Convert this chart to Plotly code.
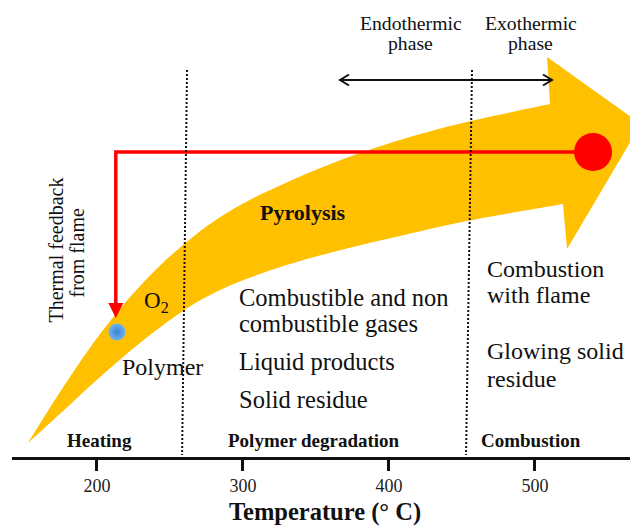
import plotly.graph_objects as go

# ---------------- data (temperature in °C on x, diagram height on y, 0 = top) -------------
TICK_VALUES = [200, 300, 400, 500]
X_RANGE = [141.8, 570.6]
Y_RANGE = [457, 8]
X_TITLE = "Temperature (° C)"

# big yellow arrow outline
ARROW_UPPER_T = [152.8, 174.7, 202.1, 229.5, 258.9, 291.1, 332.2, 382.2, 441.8, 510.3]
ARROW_UPPER_Y = [443, 392, 334, 286, 245, 211, 181, 152, 126, 104]
ARROW_HEAD_T = [508.3, 572.6, 522.0, 519.2]
ARROW_HEAD_Y = [57, 124, 249, 204]
ARROW_LOWER_T = [519.2, 453.5, 407.6, 375.4, 339.1, 311.7, 284.3, 258.9, 229.5, 202.1, 176.8, 152.8]
ARROW_LOWER_Y = [204, 221, 236, 247, 261, 274, 290, 311, 343, 377, 411, 443]

# phase boundaries (dotted lines): top / bottom temperature
BOUNDARY_TOP_T = [261.7, 456.9]
BOUNDARY_BOTTOM_T = [258.3, 452.8]
BOUNDARY_Y = [70, 455]

# thermal feedback path (flame -> polymer)
FEEDBACK_T = [539.8, 212.9, 212.9]
FEEDBACK_Y = [152, 152, 306]
FEEDBACK_TIP_Y = 318
FLAME_T = [539.8]
FLAME_Y = [152]
POLYMER_T = [213.7]
POLYMER_Y = [332]

# endothermic / exothermic double arrow
PHASE_ARROW_T = [366.5, 511.7]
PHASE_ARROW_Y = 80

PHASE_LABELS = ["Heating", "Polymer degradation", "Combustion"]

FONT = "Liberation Serif"
INK = "#111111"

# the page body adds an 8 px offset; the figure is sized so it ends at the window edge
PAGE_OFFSET = 8
FIG_W, FIG_H = 638 - PAGE_OFFSET, 526 - PAGE_OFFSET
AXIS_PX = 457
PLOT_H = AXIS_PX - PAGE_OFFSET
PX_PER_DEG = 1.46


def px2t(px):
    return 133.6 + px / PX_PER_DEG


def dx(px):
    return px / PX_PER_DEG


def smooth(xs, ys):
    pts = list(zip(xs, ys))
    n = len(pts)
    segs = []
    for i in range(n - 1):
        p0 = pts[i - 1] if i > 0 else pts[i]
        p1, p2 = pts[i], pts[i + 1]
        p3 = pts[i + 2] if i + 2 < n else p2
        c1 = (p1[0] + (p2[0] - p0[0]) / 6, p1[1] + (p2[1] - p0[1]) / 6)
        c2 = (p2[0] - (p3[0] - p1[0]) / 6, p2[1] - (p3[1] - p1[1]) / 6)
        segs.append(f"C{c1[0]:.3f},{c1[1]:.3f} {c2[0]:.3f},{c2[1]:.3f} {p2[0]:.3f},{p2[1]:.3f}")
    return " ".join(segs)


path = f"M{ARROW_UPPER_T[0]},{ARROW_UPPER_Y[0]} " + smooth(ARROW_UPPER_T, ARROW_UPPER_Y)
for t, y in zip(ARROW_HEAD_T, ARROW_HEAD_Y):
    path += f" L{t},{y}"
path += " " + smooth(ARROW_LOWER_T, ARROW_LOWER_Y) + " Z"

fig = go.Figure()

fig.add_shape(type="path", path=path, xref="x", yref="y",
              fillcolor="#FFC000", line=dict(width=0), layer="below")

for tt, tb in zip(BOUNDARY_TOP_T, BOUNDARY_BOTTOM_T):
    fig.add_shape(type="line", xref="x", yref="y", x0=tt, y0=BOUNDARY_Y[0], x1=tb, y1=BOUNDARY_Y[1],
                  line=dict(color="#111111", width=2, dash="2px,2px"))

# red feedback line + head
fig.add_trace(go.Scatter(x=FEEDBACK_T, y=FEEDBACK_Y, mode="lines",
                         line=dict(color="#FF0000", width=3.5), hoverinfo="skip"))
tx = FEEDBACK_T[-1]
fig.add_shape(type="path", xref="x", yref="y",
              path=f"M{tx - dx(7.5)},{FEEDBACK_TIP_Y - 15} L{tx + dx(7.5)},{FEEDBACK_TIP_Y - 15} "
                   f"L{tx},{FEEDBACK_TIP_Y} Z",
              fillcolor="#FF0000", line=dict(width=0))

fig.add_trace(go.Scatter(x=FLAME_T, y=FLAME_Y, mode="markers",
                         marker=dict(size=38, color="#FF0000", line=dict(width=0)), hoverinfo="skip"))
fig.add_trace(go.Scatter(x=POLYMER_T, y=POLYMER_Y, mode="markers",
                         marker=dict(size=17, color="#6fb4ef",
                                     gradient=dict(type="radial", color="#3a82d4"),
                                     line=dict(width=0)), hoverinfo="skip"))

# black double arrow
a0, a1, ay = PHASE_ARROW_T[0], PHASE_ARROW_T[1], PHASE_ARROW_Y
fig.add_shape(type="line", xref="x", yref="y", x0=a0, y0=ay, x1=a1, y1=ay,
              line=dict(color="#111111", width=2))
fig.add_shape(type="path", xref="x", yref="y",
              path=f"M{a1 - dx(9)},{ay - 5.5} L{a1},{ay} L{a1 - dx(9)},{ay + 5.5}",
              line=dict(color="#111111", width=2))
fig.add_shape(type="path", xref="x", yref="y",
              path=f"M{a0 + dx(9)},{ay - 5.5} L{a0},{ay} L{a0 + dx(9)},{ay + 5.5}",
              line=dict(color="#111111", width=2))

ann = []


def label(text, px, py, size, anchor="center", angle=0):
    ann.append(dict(x=px2t(px), y=py, xref="x", yref="y", text=text, showarrow=False,
                    xanchor=anchor, yanchor="middle", textangle=angle,
                    font=dict(family=FONT, size=size, color=INK)))


label("Endothermic", 410.5, 22.5, 19.7)
label("phase", 410.5, 43, 19.7)
label("Exothermic", 531, 22.5, 19.7)
label("phase", 531, 43, 19.7)

label("<b>Pyrolysis</b>", 303, 212.5, 22)
label("O<sub>2</sub>", 142, 302, 23, anchor="left")
label("Polymer", 120, 366.5, 24, anchor="left")

label("Combustible and non", 237, 297.5, 24.5, anchor="left")
label("combustible gases", 237, 323, 24.5, anchor="left")
label("Liquid products", 237, 361.5, 24.5, anchor="left")
label("Solid residue", 237, 399.5, 24.5, anchor="left")

label("Combustion", 485, 268.5, 24, anchor="left")
label("with flame", 485, 295, 24, anchor="left")
label("Glowing solid", 485, 351, 24, anchor="left")
label("residue", 485, 378.5, 24, anchor="left")

label("Thermal feedback", 55, 250.5, 20, angle=-90)
label("from flame", 76, 252.5, 20, angle=-90)

for txt, px in zip(PHASE_LABELS, [99, 314, 531]):
    label(f"<b>{txt}</b>", px, 440.8, 19)

fig.update_layout(
    width=FIG_W, height=FIG_H,
    margin=dict(l=12 - PAGE_OFFSET, r=0, t=0, b=FIG_H - PLOT_H),
    paper_bgcolor="white", plot_bgcolor="white",
    showlegend=False,
    annotations=ann,
    xaxis=dict(range=X_RANGE, tickvals=TICK_VALUES, ticks="outside", ticklen=11, tickwidth=2.5,
               tickcolor="#111111", showline=True, linecolor="#111111", linewidth=2.5,
               showgrid=False, zeroline=False, fixedrange=True,
               tickfont=dict(family=FONT, size=18, color="#222222"),
               title=dict(text=f"<b>{X_TITLE}</b>", standoff=10,
                          font=dict(family=FONT, size=24.5, color=INK))),
    yaxis=dict(range=Y_RANGE, visible=False, showgrid=False, zeroline=False, fixedrange=True),
)

fig.write_html("out.html")
